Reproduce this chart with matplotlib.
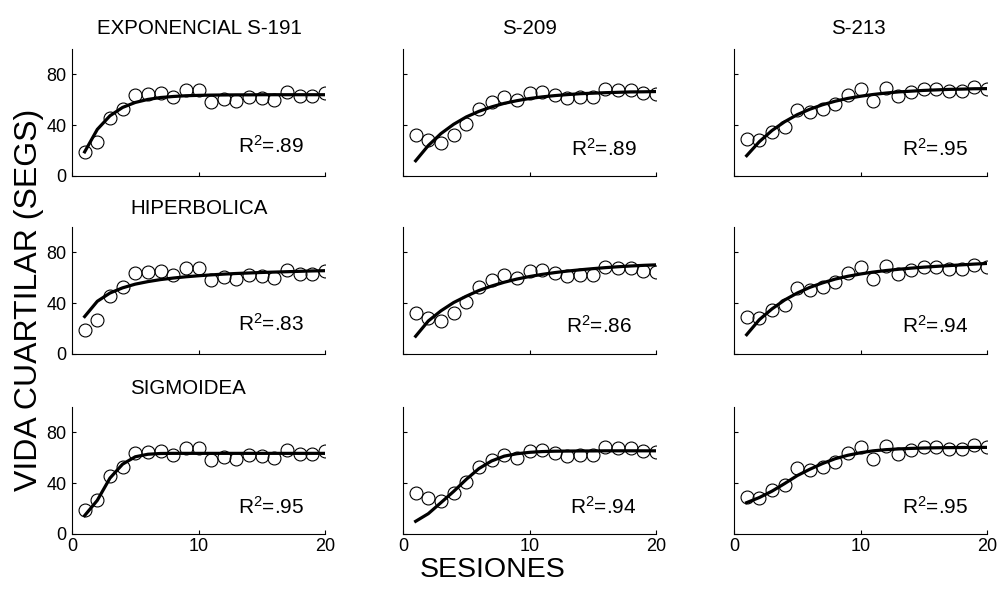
import matplotlib
matplotlib.use("Agg")
import matplotlib.pyplot as plt

plt.rcParams['font.family'] = ['Liberation Sans', 'DejaVu Sans']
plt.rcParams['mathtext.fontset'] = 'custom'
plt.rcParams['mathtext.rm'] = 'Liberation Sans'
plt.rcParams['mathtext.it'] = 'Liberation Sans'

sessions = list(range(1, 21))

# observed data per subject
s191 = [19, 26.5, 46, 52.6, 64, 64.4, 65.1, 62.4, 67.7, 67.7, 58.5, 60.8, 58.8, 62.1, 61.8, 59.5, 66.4, 63, 63, 65.7]
s209 = [32.5, 28.4, 25.9, 32.1, 40.7, 53, 58.3, 61.9, 60, 65.5, 66.4, 63.5, 61.2, 62.2, 62.5, 68.5, 67.9, 67.9, 65.5, 64.6]
s213 = [29.1, 28.6, 34.4, 38.6, 51.9, 50.3, 52.5, 56.9, 63.5, 68.4, 59.1, 69.4, 63.3, 66.1, 68.4, 68.4, 67.1, 66.8, 70.1, 68.8]

# fitted curves (at each session)
exp191 = [19.0, 36.7, 47.4, 54.0, 57.9, 60.3, 61.8, 62.6, 63.2, 63.5, 63.7, 63.8, 63.9, 63.9, 64.0, 64.0, 64.0, 64.0, 64.0, 64.0]
exp209 = [12.0, 24.0, 33.4, 40.7, 46.5, 50.9, 54.4, 57.2, 59.3, 61.0, 62.3, 63.3, 64.1, 64.8, 65.2, 65.6, 65.9, 66.2, 66.3, 66.5]
exp213 = [16.0, 27.0, 35.8, 42.7, 48.3, 52.6, 56.1, 58.9, 61.1, 62.8, 64.2, 65.3, 66.2, 66.8, 67.4, 67.8, 68.2, 68.4, 68.7, 68.8]
hyp191 = [29.5, 41.5, 48.0, 52.1, 55.0, 57.0, 58.6, 59.8, 60.8, 61.6, 62.3, 62.9, 63.4, 63.8, 64.2, 64.5, 64.8, 65.1, 65.4, 65.6]
hyp209 = [14.0, 26.0, 34.0, 40.5, 45.5, 50.0, 53.5, 56.5, 59.0, 61.0, 62.7, 64.1, 65.3, 66.3, 67.2, 68.0, 68.7, 69.3, 69.8, 70.2]
hyp213 = [15.2, 27.0, 35.5, 42.5, 48.0, 52.5, 56.0, 59.0, 61.2, 63.0, 64.5, 65.7, 66.7, 67.6, 68.4, 69.0, 69.6, 70.2, 70.8, 71.3]
sig191 = [14.5, 26.5, 44.0, 55.0, 60.8, 62.8, 63.4, 63.5, 63.5, 63.5, 63.5, 63.5, 63.5, 63.5, 63.5, 63.5, 63.5, 63.5, 63.5, 63.5]
sig209 = [10.0, 16.0, 24.7, 33.5, 43.0, 51.5, 57.5, 61.3, 63.2, 64.3, 64.9, 65.2, 65.3, 65.4, 65.4, 65.5, 65.5, 65.5, 65.5, 65.5]
sig213 = [24.7, 28.7, 33.7, 39.7, 46.0, 51.0, 55.5, 59.3, 62.0, 64.0, 65.5, 66.4, 67.0, 67.4, 67.7, 67.9, 68.0, 68.1, 68.2, 68.2]

r2_labels = [[".89", ".89", ".95"],
             [".83", ".86", ".94"],
             [".95", ".94", ".95"]]

subjects = [s191, s209, s213]
fits = [[exp191, exp209, exp213],
        [hyp191, hyp209, hyp213],
        [sig191, sig209, sig213]]
col_titles = ["EXPONENCIAL S-191", "S-209", "S-213"]
row_titles = ["HIPERBOLICA", "SIGMOIDEA"]
xticks = [0, 10, 20]
yticks = [0, 40, 80]

W, H = 1000, 589
fig = plt.figure(figsize=(10, 5.89), dpi=100)

col_left = [72, 403, 734]
col_w = 253
row_top = [49, 227, 407]
row_h = 127

r2_pos = [[(13.1, 18.5), (13.3, 16.0), (13.3, 16.0)],
          [(13.1, 18.2), (12.9, 17.0), (13.25, 17.0)],
          [(13.1, 16.0), (13.2, 16.0), (13.3, 16.0)]]

for r in range(3):
    for c in range(3):
        ax = fig.add_axes([col_left[c] / W, 1 - (row_top[r] + row_h) / H, col_w / W, row_h / H])
        ax.plot(sessions, subjects[c], linestyle='none', marker='o', markersize=9.3,
                markerfacecolor='none', markeredgecolor='black', markeredgewidth=0.8)
        ax.plot(sessions, fits[r][c], color='black', linewidth=2.3)
        ax.set_xlim(0, 20)
        ax.set_ylim(0, 100)
        ax.set_xticks(xticks)
        ax.set_yticks(yticks)
        for s in ['top', 'right']:
            ax.spines[s].set_visible(False)
        for s in ['left', 'bottom']:
            ax.spines[s].set_linewidth(0.8)
        ax.tick_params(direction='in', length=3, width=0.8, labelsize=13, pad=4)
        ax.tick_params(axis='x', pad=3)
        if c != 0:
            ax.set_yticklabels([])
        if r != 2:
            ax.set_xticklabels([])
        ax.patch.set_alpha(0)
        px, py = r2_pos[r][c]
        ax.text(px, py, "R$^2$=" + r2_labels[r][c], fontsize=15, ha='left', va='baseline')

# column titles (top row)
title_cx = [199, 529, 858]
for c in range(3):
    fig.text(title_cx[c] / W, 1 - 28 / H, col_titles[c], fontsize=14.8, ha='center', va='center')
# row titles
fig.text(130 / W, 1 - 208 / H, row_titles[0], fontsize=14.8, ha='left', va='center')
fig.text(130 / W, 1 - 388 / H, row_titles[1], fontsize=14.8, ha='left', va='center')

fig.text(29 / W, 1 - 300 / H, "VIDA CUARTILAR (SEGS)", fontsize=23, rotation=90, ha='center', va='center')
fig.text(493 / W, 1 - 570 / H, "SESIONES", fontsize=20.5, ha='center', va='center')

fig.savefig("out.png", dpi=100)
